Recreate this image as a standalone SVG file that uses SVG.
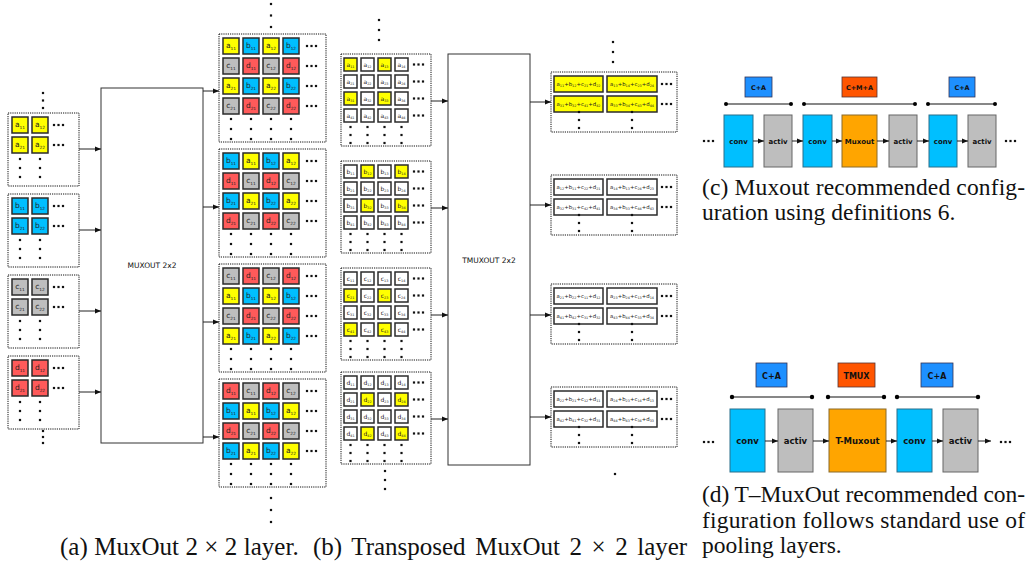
<svg xmlns="http://www.w3.org/2000/svg" xmlns:xlink="http://www.w3.org/1999/xlink" width="1031" height="567" viewBox="0 0 1031 567">
<style>
.dbox{fill:none;stroke:#111;stroke-width:1;stroke-dasharray:1.2 1}
.cell{stroke:#2b2b2b;stroke-width:1.5}
.Y{fill:#ffff00}.B{fill:#00bfff}.G{fill:#bebebe}.R{fill:#ff5a5a}.W{fill:#ffffff}
.t{font-family:"DejaVu Sans",sans-serif;font-size:7.5px;fill:#222;text-anchor:middle}
.tb{font-family:"DejaVu Sans",sans-serif;font-size:6px;fill:#222;text-anchor:middle}
.to{font-family:"DejaVu Sans",sans-serif;font-size:5.4px;fill:#222;text-anchor:middle}
.s{font-size:4.3px}
.s2{font-size:3.4px}
.big{fill:#fff;stroke:#333;stroke-width:1}
.bl{font-family:"DejaVu Sans",sans-serif;font-size:7.5px;fill:#111;text-anchor:middle}
.conn line{stroke:#222;stroke-width:1;marker-end:url(#ah)}
.cap{font-family:"Liberation Serif","Times New Roman",serif;font-size:23.5px;fill:#111}
.capL{font-size:25px}
.k{font-family:"DejaVu Sans",sans-serif;font-weight:bold;fill:#111;text-anchor:middle}
.conv{fill:#00bfff;stroke:#2b6f8a;stroke-width:1}
.act{fill:#bebebe;stroke:#666;stroke-width:1}
.mux{fill:#ffa500;stroke:#8a6a2a;stroke-width:1}
.lab{fill:#1e90ff;stroke:#335;stroke-width:0.8}
.labo{fill:#ff5500;stroke:#533;stroke-width:0.8}
.span{stroke:#111;stroke-width:1.2}
</style>
<defs>
<marker id="ah" markerWidth="6" markerHeight="6" refX="6" refY="3" orient="auto" markerUnits="userSpaceOnUse"><path d="M0,0.6 L6,3 L0,5.4 z" fill="#111"/></marker>
<rect id="c16" width="16" height="16"/>
<rect id="c13" width="13" height="13"/>
<rect id="dot" x="-1.1" y="-1.1" width="2.2" height="2.2" fill="#111"/>
<g id="ell"><use href="#dot" x="1"/><use href="#dot" x="5.5"/><use href="#dot" x="10"/></g>
<g id="vdA"><use href="#dot" y="0"/><use href="#dot" y="9"/><use href="#dot" y="18"/></g>
<g id="vdB"><use href="#dot" y="0"/><use href="#dot" y="10"/><use href="#dot" y="20"/></g>
<g id="vdC"><use href="#dot" y="0"/><use href="#dot" y="8"/><use href="#dot" y="16"/></g>
</defs>

<!-- ===== (a) MuxOut 2x2: input feature maps ===== -->
<g id="dots-a-top"><use href="#dot" x="43" y="93"/><use href="#dot" x="43" y="100.5"/><use href="#dot" x="43" y="108"/></g>
<g id="in-a" transform="translate(8,113)">
<rect class="dbox" width="71" height="73"/>
<use href="#c16" class="cell Y" x="4" y="4"/><use href="#c16" class="cell Y" x="24" y="4"/>
<use href="#c16" class="cell Y" x="4" y="24"/><use href="#c16" class="cell Y" x="24" y="24"/>
<text class="t" x="12" y="14">a<tspan class="s" dy="1.5">11</tspan></text>
<text class="t" x="32" y="14">a<tspan class="s" dy="1.5">12</tspan></text>
<text class="t" x="12" y="34">a<tspan class="s" dy="1.5">21</tspan></text>
<text class="t" x="32" y="34">a<tspan class="s" dy="1.5">22</tspan></text>
<use href="#ell" x="45" y="12"/><use href="#ell" x="45" y="32"/>
<use href="#vdA" x="12" y="46"/><use href="#vdA" x="32" y="46"/>
</g>
<g id="in-b" transform="translate(8,194)">
<rect class="dbox" width="71" height="73"/>
<use href="#c16" class="cell B" x="4" y="4"/><use href="#c16" class="cell B" x="24" y="4"/>
<use href="#c16" class="cell B" x="4" y="24"/><use href="#c16" class="cell B" x="24" y="24"/>
<text class="t" x="12" y="14">b<tspan class="s" dy="1.5">11</tspan></text>
<text class="t" x="32" y="14">b<tspan class="s" dy="1.5">12</tspan></text>
<text class="t" x="12" y="34">b<tspan class="s" dy="1.5">21</tspan></text>
<text class="t" x="32" y="34">b<tspan class="s" dy="1.5">22</tspan></text>
<use href="#ell" x="45" y="12"/><use href="#ell" x="45" y="32"/>
<use href="#vdA" x="12" y="46"/><use href="#vdA" x="32" y="46"/>
</g>
<g id="in-c" transform="translate(8,275)">
<rect class="dbox" width="71" height="73"/>
<use href="#c16" class="cell G" x="4" y="4"/><use href="#c16" class="cell G" x="24" y="4"/>
<use href="#c16" class="cell G" x="4" y="24"/><use href="#c16" class="cell G" x="24" y="24"/>
<text class="t" x="12" y="14">c<tspan class="s" dy="1.5">11</tspan></text>
<text class="t" x="32" y="14">c<tspan class="s" dy="1.5">12</tspan></text>
<text class="t" x="12" y="34">c<tspan class="s" dy="1.5">21</tspan></text>
<text class="t" x="32" y="34">c<tspan class="s" dy="1.5">22</tspan></text>
<use href="#ell" x="45" y="12"/><use href="#ell" x="45" y="32"/>
<use href="#vdA" x="12" y="46"/><use href="#vdA" x="32" y="46"/>
</g>
<g id="in-d" transform="translate(8,356)">
<rect class="dbox" width="71" height="73"/>
<use href="#c16" class="cell R" x="4" y="4"/><use href="#c16" class="cell R" x="24" y="4"/>
<use href="#c16" class="cell R" x="4" y="24"/><use href="#c16" class="cell R" x="24" y="24"/>
<text class="t" x="12" y="14">d<tspan class="s" dy="1.5">11</tspan></text>
<text class="t" x="32" y="14">d<tspan class="s" dy="1.5">12</tspan></text>
<text class="t" x="12" y="34">d<tspan class="s" dy="1.5">21</tspan></text>
<text class="t" x="32" y="34">d<tspan class="s" dy="1.5">22</tspan></text>
<use href="#ell" x="45" y="12"/><use href="#ell" x="45" y="32"/>
<use href="#vdA" x="12" y="46"/><use href="#vdA" x="32" y="46"/>
</g>
<g id="dots-a-bottom"><use href="#dot" x="43" y="431"/><use href="#dot" x="43" y="437"/><use href="#dot" x="43" y="443"/></g>

<!-- MUXOUT layer -->
<g id="muxout">
<rect class="big" x="101" y="88" width="102" height="355"/>
<text class="bl" x="152" y="268">MUXOUT 2x2</text>
</g>

<!-- ===== (a) output maps ===== -->
<g id="dots-a-out-top"><use href="#dot" x="271" y="4"/><use href="#dot" x="271" y="15.5"/><use href="#dot" x="271" y="27"/></g>
<g id="out-a1" transform="translate(219,34)">
<rect class="dbox" width="107" height="108"/>
<use href="#c16" class="cell Y" x="4" y="4"/><use href="#c16" class="cell B" x="24" y="4"/><use href="#c16" class="cell Y" x="44" y="4"/><use href="#c16" class="cell B" x="64" y="4"/>
<use href="#c16" class="cell G" x="4" y="24"/><use href="#c16" class="cell R" x="24" y="24"/><use href="#c16" class="cell G" x="44" y="24"/><use href="#c16" class="cell R" x="64" y="24"/>
<use href="#c16" class="cell Y" x="4" y="44"/><use href="#c16" class="cell B" x="24" y="44"/><use href="#c16" class="cell Y" x="44" y="44"/><use href="#c16" class="cell B" x="64" y="44"/>
<use href="#c16" class="cell G" x="4" y="64"/><use href="#c16" class="cell R" x="24" y="64"/><use href="#c16" class="cell G" x="44" y="64"/><use href="#c16" class="cell R" x="64" y="64"/>
<text class="t" x="12" y="14">a<tspan class="s" dy="1.5">11</tspan></text><text class="t" x="32" y="14">b<tspan class="s" dy="1.5">11</tspan></text><text class="t" x="52" y="14">a<tspan class="s" dy="1.5">12</tspan></text><text class="t" x="72" y="14">b<tspan class="s" dy="1.5">12</tspan></text>
<text class="t" x="12" y="34">c<tspan class="s" dy="1.5">11</tspan></text><text class="t" x="32" y="34">d<tspan class="s" dy="1.5">11</tspan></text><text class="t" x="52" y="34">c<tspan class="s" dy="1.5">12</tspan></text><text class="t" x="72" y="34">d<tspan class="s" dy="1.5">12</tspan></text>
<text class="t" x="12" y="54">a<tspan class="s" dy="1.5">21</tspan></text><text class="t" x="32" y="54">b<tspan class="s" dy="1.5">21</tspan></text><text class="t" x="52" y="54">a<tspan class="s" dy="1.5">22</tspan></text><text class="t" x="72" y="54">b<tspan class="s" dy="1.5">22</tspan></text>
<text class="t" x="12" y="74">c<tspan class="s" dy="1.5">21</tspan></text><text class="t" x="32" y="74">d<tspan class="s" dy="1.5">21</tspan></text><text class="t" x="52" y="74">c<tspan class="s" dy="1.5">22</tspan></text><text class="t" x="72" y="74">d<tspan class="s" dy="1.5">22</tspan></text>
<use href="#ell" x="87" y="12"/><use href="#ell" x="87" y="32"/><use href="#ell" x="87" y="52"/><use href="#ell" x="87" y="72"/>
<use href="#vdB" x="12" y="85"/><use href="#vdB" x="32" y="85"/><use href="#vdB" x="52" y="85"/><use href="#vdB" x="72" y="85"/>
</g>
<g id="out-a2" transform="translate(219,149)">
<rect class="dbox" width="107" height="108"/>
<use href="#c16" class="cell B" x="4" y="4"/><use href="#c16" class="cell Y" x="24" y="4"/><use href="#c16" class="cell B" x="44" y="4"/><use href="#c16" class="cell Y" x="64" y="4"/>
<use href="#c16" class="cell R" x="4" y="24"/><use href="#c16" class="cell G" x="24" y="24"/><use href="#c16" class="cell R" x="44" y="24"/><use href="#c16" class="cell G" x="64" y="24"/>
<use href="#c16" class="cell B" x="4" y="44"/><use href="#c16" class="cell Y" x="24" y="44"/><use href="#c16" class="cell B" x="44" y="44"/><use href="#c16" class="cell Y" x="64" y="44"/>
<use href="#c16" class="cell R" x="4" y="64"/><use href="#c16" class="cell G" x="24" y="64"/><use href="#c16" class="cell R" x="44" y="64"/><use href="#c16" class="cell G" x="64" y="64"/>
<text class="t" x="12" y="14">b<tspan class="s" dy="1.5">11</tspan></text><text class="t" x="32" y="14">a<tspan class="s" dy="1.5">11</tspan></text><text class="t" x="52" y="14">b<tspan class="s" dy="1.5">12</tspan></text><text class="t" x="72" y="14">a<tspan class="s" dy="1.5">12</tspan></text>
<text class="t" x="12" y="34">d<tspan class="s" dy="1.5">11</tspan></text><text class="t" x="32" y="34">c<tspan class="s" dy="1.5">11</tspan></text><text class="t" x="52" y="34">d<tspan class="s" dy="1.5">12</tspan></text><text class="t" x="72" y="34">c<tspan class="s" dy="1.5">12</tspan></text>
<text class="t" x="12" y="54">b<tspan class="s" dy="1.5">21</tspan></text><text class="t" x="32" y="54">a<tspan class="s" dy="1.5">21</tspan></text><text class="t" x="52" y="54">b<tspan class="s" dy="1.5">22</tspan></text><text class="t" x="72" y="54">a<tspan class="s" dy="1.5">22</tspan></text>
<text class="t" x="12" y="74">d<tspan class="s" dy="1.5">21</tspan></text><text class="t" x="32" y="74">c<tspan class="s" dy="1.5">21</tspan></text><text class="t" x="52" y="74">d<tspan class="s" dy="1.5">22</tspan></text><text class="t" x="72" y="74">c<tspan class="s" dy="1.5">22</tspan></text>
<use href="#ell" x="87" y="12"/><use href="#ell" x="87" y="32"/><use href="#ell" x="87" y="52"/><use href="#ell" x="87" y="72"/>
<use href="#vdB" x="12" y="85"/><use href="#vdB" x="32" y="85"/><use href="#vdB" x="52" y="85"/><use href="#vdB" x="72" y="85"/>
</g>
<g id="out-a3" transform="translate(219,264)">
<rect class="dbox" width="107" height="108"/>
<use href="#c16" class="cell G" x="4" y="4"/><use href="#c16" class="cell R" x="24" y="4"/><use href="#c16" class="cell G" x="44" y="4"/><use href="#c16" class="cell R" x="64" y="4"/>
<use href="#c16" class="cell Y" x="4" y="24"/><use href="#c16" class="cell B" x="24" y="24"/><use href="#c16" class="cell Y" x="44" y="24"/><use href="#c16" class="cell B" x="64" y="24"/>
<use href="#c16" class="cell G" x="4" y="44"/><use href="#c16" class="cell R" x="24" y="44"/><use href="#c16" class="cell G" x="44" y="44"/><use href="#c16" class="cell R" x="64" y="44"/>
<use href="#c16" class="cell Y" x="4" y="64"/><use href="#c16" class="cell B" x="24" y="64"/><use href="#c16" class="cell Y" x="44" y="64"/><use href="#c16" class="cell B" x="64" y="64"/>
<text class="t" x="12" y="14">c<tspan class="s" dy="1.5">11</tspan></text><text class="t" x="32" y="14">d<tspan class="s" dy="1.5">11</tspan></text><text class="t" x="52" y="14">c<tspan class="s" dy="1.5">12</tspan></text><text class="t" x="72" y="14">d<tspan class="s" dy="1.5">12</tspan></text>
<text class="t" x="12" y="34">a<tspan class="s" dy="1.5">11</tspan></text><text class="t" x="32" y="34">b<tspan class="s" dy="1.5">11</tspan></text><text class="t" x="52" y="34">a<tspan class="s" dy="1.5">12</tspan></text><text class="t" x="72" y="34">b<tspan class="s" dy="1.5">12</tspan></text>
<text class="t" x="12" y="54">c<tspan class="s" dy="1.5">21</tspan></text><text class="t" x="32" y="54">d<tspan class="s" dy="1.5">21</tspan></text><text class="t" x="52" y="54">c<tspan class="s" dy="1.5">22</tspan></text><text class="t" x="72" y="54">d<tspan class="s" dy="1.5">22</tspan></text>
<text class="t" x="12" y="74">a<tspan class="s" dy="1.5">21</tspan></text><text class="t" x="32" y="74">b<tspan class="s" dy="1.5">21</tspan></text><text class="t" x="52" y="74">a<tspan class="s" dy="1.5">22</tspan></text><text class="t" x="72" y="74">b<tspan class="s" dy="1.5">22</tspan></text>
<use href="#ell" x="87" y="12"/><use href="#ell" x="87" y="32"/><use href="#ell" x="87" y="52"/><use href="#ell" x="87" y="72"/>
<use href="#vdB" x="12" y="85"/><use href="#vdB" x="32" y="85"/><use href="#vdB" x="52" y="85"/><use href="#vdB" x="72" y="85"/>
</g>
<g id="out-a4" transform="translate(219,379)">
<rect class="dbox" width="107" height="108"/>
<use href="#c16" class="cell R" x="4" y="4"/><use href="#c16" class="cell G" x="24" y="4"/><use href="#c16" class="cell R" x="44" y="4"/><use href="#c16" class="cell G" x="64" y="4"/>
<use href="#c16" class="cell B" x="4" y="24"/><use href="#c16" class="cell Y" x="24" y="24"/><use href="#c16" class="cell B" x="44" y="24"/><use href="#c16" class="cell Y" x="64" y="24"/>
<use href="#c16" class="cell R" x="4" y="44"/><use href="#c16" class="cell G" x="24" y="44"/><use href="#c16" class="cell R" x="44" y="44"/><use href="#c16" class="cell G" x="64" y="44"/>
<use href="#c16" class="cell B" x="4" y="64"/><use href="#c16" class="cell Y" x="24" y="64"/><use href="#c16" class="cell B" x="44" y="64"/><use href="#c16" class="cell Y" x="64" y="64"/>
<text class="t" x="12" y="14">d<tspan class="s" dy="1.5">11</tspan></text><text class="t" x="32" y="14">c<tspan class="s" dy="1.5">11</tspan></text><text class="t" x="52" y="14">d<tspan class="s" dy="1.5">12</tspan></text><text class="t" x="72" y="14">c<tspan class="s" dy="1.5">12</tspan></text>
<text class="t" x="12" y="34">b<tspan class="s" dy="1.5">11</tspan></text><text class="t" x="32" y="34">a<tspan class="s" dy="1.5">11</tspan></text><text class="t" x="52" y="34">b<tspan class="s" dy="1.5">12</tspan></text><text class="t" x="72" y="34">a<tspan class="s" dy="1.5">12</tspan></text>
<text class="t" x="12" y="54">d<tspan class="s" dy="1.5">21</tspan></text><text class="t" x="32" y="54">c<tspan class="s" dy="1.5">21</tspan></text><text class="t" x="52" y="54">d<tspan class="s" dy="1.5">22</tspan></text><text class="t" x="72" y="54">c<tspan class="s" dy="1.5">22</tspan></text>
<text class="t" x="12" y="74">b<tspan class="s" dy="1.5">21</tspan></text><text class="t" x="32" y="74">a<tspan class="s" dy="1.5">21</tspan></text><text class="t" x="52" y="74">b<tspan class="s" dy="1.5">22</tspan></text><text class="t" x="72" y="74">a<tspan class="s" dy="1.5">22</tspan></text>
<use href="#ell" x="87" y="12"/><use href="#ell" x="87" y="32"/><use href="#ell" x="87" y="52"/><use href="#ell" x="87" y="72"/>
<use href="#vdB" x="12" y="85"/><use href="#vdB" x="32" y="85"/><use href="#vdB" x="52" y="85"/><use href="#vdB" x="72" y="85"/>
</g>
<g id="dots-a-out-bottom"><use href="#dot" x="271" y="498"/><use href="#dot" x="271" y="510"/><use href="#dot" x="271" y="522"/></g>

<!-- ===== (b) Transposed MuxOut: input maps ===== -->
<g id="dots-b-top"><use href="#dot" x="379" y="20"/><use href="#dot" x="379" y="30"/><use href="#dot" x="379" y="40"/></g>
<g id="tin-a" transform="translate(341,54)">
<rect class="dbox" width="90" height="92"/>
<use href="#c13" class="cell Y" x="3" y="4"/><use href="#c13" class="cell W" x="20" y="4"/><use href="#c13" class="cell Y" x="37" y="4"/><use href="#c13" class="cell W" x="54" y="4"/>
<use href="#c13" class="cell W" x="3" y="21"/><use href="#c13" class="cell W" x="20" y="21"/><use href="#c13" class="cell W" x="37" y="21"/><use href="#c13" class="cell W" x="54" y="21"/>
<use href="#c13" class="cell Y" x="3" y="38"/><use href="#c13" class="cell W" x="20" y="38"/><use href="#c13" class="cell Y" x="37" y="38"/><use href="#c13" class="cell W" x="54" y="38"/>
<use href="#c13" class="cell W" x="3" y="55"/><use href="#c13" class="cell W" x="20" y="55"/><use href="#c13" class="cell W" x="37" y="55"/><use href="#c13" class="cell W" x="54" y="55"/>
<text class="tb" x="9.5" y="12.5">a<tspan class="s2" dy="1.2">11</tspan></text><text class="tb" x="26.5" y="12.5">a<tspan class="s2" dy="1.2">12</tspan></text><text class="tb" x="43.5" y="12.5">a<tspan class="s2" dy="1.2">13</tspan></text><text class="tb" x="60.5" y="12.5">a<tspan class="s2" dy="1.2">14</tspan></text>
<text class="tb" x="9.5" y="29.5">a<tspan class="s2" dy="1.2">21</tspan></text><text class="tb" x="26.5" y="29.5">a<tspan class="s2" dy="1.2">22</tspan></text><text class="tb" x="43.5" y="29.5">a<tspan class="s2" dy="1.2">23</tspan></text><text class="tb" x="60.5" y="29.5">a<tspan class="s2" dy="1.2">24</tspan></text>
<text class="tb" x="9.5" y="46.5">a<tspan class="s2" dy="1.2">31</tspan></text><text class="tb" x="26.5" y="46.5">a<tspan class="s2" dy="1.2">32</tspan></text><text class="tb" x="43.5" y="46.5">a<tspan class="s2" dy="1.2">33</tspan></text><text class="tb" x="60.5" y="46.5">a<tspan class="s2" dy="1.2">34</tspan></text>
<text class="tb" x="9.5" y="63.5">a<tspan class="s2" dy="1.2">41</tspan></text><text class="tb" x="26.5" y="63.5">a<tspan class="s2" dy="1.2">42</tspan></text><text class="tb" x="43.5" y="63.5">a<tspan class="s2" dy="1.2">43</tspan></text><text class="tb" x="60.5" y="63.5">a<tspan class="s2" dy="1.2">44</tspan></text>
<use href="#ell" x="72" y="10.5"/><use href="#ell" x="72" y="27.5"/><use href="#ell" x="72" y="44.5"/><use href="#ell" x="72" y="61.5"/>
<use href="#vdC" x="9.5" y="73"/><use href="#vdC" x="26.5" y="73"/><use href="#vdC" x="43.5" y="73"/><use href="#vdC" x="60.5" y="73"/>
</g>
<g id="tin-b" transform="translate(341,161)">
<rect class="dbox" width="90" height="92"/>
<use href="#c13" class="cell W" x="3" y="4"/><use href="#c13" class="cell Y" x="20" y="4"/><use href="#c13" class="cell W" x="37" y="4"/><use href="#c13" class="cell Y" x="54" y="4"/>
<use href="#c13" class="cell W" x="3" y="21"/><use href="#c13" class="cell W" x="20" y="21"/><use href="#c13" class="cell W" x="37" y="21"/><use href="#c13" class="cell W" x="54" y="21"/>
<use href="#c13" class="cell W" x="3" y="38"/><use href="#c13" class="cell Y" x="20" y="38"/><use href="#c13" class="cell W" x="37" y="38"/><use href="#c13" class="cell Y" x="54" y="38"/>
<use href="#c13" class="cell W" x="3" y="55"/><use href="#c13" class="cell W" x="20" y="55"/><use href="#c13" class="cell W" x="37" y="55"/><use href="#c13" class="cell W" x="54" y="55"/>
<text class="tb" x="9.5" y="12.5">b<tspan class="s2" dy="1.2">11</tspan></text><text class="tb" x="26.5" y="12.5">b<tspan class="s2" dy="1.2">12</tspan></text><text class="tb" x="43.5" y="12.5">b<tspan class="s2" dy="1.2">13</tspan></text><text class="tb" x="60.5" y="12.5">b<tspan class="s2" dy="1.2">14</tspan></text>
<text class="tb" x="9.5" y="29.5">b<tspan class="s2" dy="1.2">21</tspan></text><text class="tb" x="26.5" y="29.5">b<tspan class="s2" dy="1.2">22</tspan></text><text class="tb" x="43.5" y="29.5">b<tspan class="s2" dy="1.2">23</tspan></text><text class="tb" x="60.5" y="29.5">b<tspan class="s2" dy="1.2">24</tspan></text>
<text class="tb" x="9.5" y="46.5">b<tspan class="s2" dy="1.2">31</tspan></text><text class="tb" x="26.5" y="46.5">b<tspan class="s2" dy="1.2">32</tspan></text><text class="tb" x="43.5" y="46.5">b<tspan class="s2" dy="1.2">33</tspan></text><text class="tb" x="60.5" y="46.5">b<tspan class="s2" dy="1.2">34</tspan></text>
<text class="tb" x="9.5" y="63.5">b<tspan class="s2" dy="1.2">41</tspan></text><text class="tb" x="26.5" y="63.5">b<tspan class="s2" dy="1.2">42</tspan></text><text class="tb" x="43.5" y="63.5">b<tspan class="s2" dy="1.2">43</tspan></text><text class="tb" x="60.5" y="63.5">b<tspan class="s2" dy="1.2">44</tspan></text>
<use href="#ell" x="72" y="10.5"/><use href="#ell" x="72" y="27.5"/><use href="#ell" x="72" y="44.5"/><use href="#ell" x="72" y="61.5"/>
<use href="#vdC" x="9.5" y="73"/><use href="#vdC" x="26.5" y="73"/><use href="#vdC" x="43.5" y="73"/><use href="#vdC" x="60.5" y="73"/>
</g>
<g id="tin-c" transform="translate(341,268)">
<rect class="dbox" width="90" height="92"/>
<use href="#c13" class="cell W" x="3" y="4"/><use href="#c13" class="cell W" x="20" y="4"/><use href="#c13" class="cell W" x="37" y="4"/><use href="#c13" class="cell W" x="54" y="4"/>
<use href="#c13" class="cell Y" x="3" y="21"/><use href="#c13" class="cell W" x="20" y="21"/><use href="#c13" class="cell Y" x="37" y="21"/><use href="#c13" class="cell W" x="54" y="21"/>
<use href="#c13" class="cell W" x="3" y="38"/><use href="#c13" class="cell W" x="20" y="38"/><use href="#c13" class="cell W" x="37" y="38"/><use href="#c13" class="cell W" x="54" y="38"/>
<use href="#c13" class="cell Y" x="3" y="55"/><use href="#c13" class="cell W" x="20" y="55"/><use href="#c13" class="cell Y" x="37" y="55"/><use href="#c13" class="cell W" x="54" y="55"/>
<text class="tb" x="9.5" y="12.5">c<tspan class="s2" dy="1.2">11</tspan></text><text class="tb" x="26.5" y="12.5">c<tspan class="s2" dy="1.2">12</tspan></text><text class="tb" x="43.5" y="12.5">c<tspan class="s2" dy="1.2">13</tspan></text><text class="tb" x="60.5" y="12.5">c<tspan class="s2" dy="1.2">14</tspan></text>
<text class="tb" x="9.5" y="29.5">c<tspan class="s2" dy="1.2">21</tspan></text><text class="tb" x="26.5" y="29.5">c<tspan class="s2" dy="1.2">22</tspan></text><text class="tb" x="43.5" y="29.5">c<tspan class="s2" dy="1.2">23</tspan></text><text class="tb" x="60.5" y="29.5">c<tspan class="s2" dy="1.2">24</tspan></text>
<text class="tb" x="9.5" y="46.5">c<tspan class="s2" dy="1.2">31</tspan></text><text class="tb" x="26.5" y="46.5">c<tspan class="s2" dy="1.2">32</tspan></text><text class="tb" x="43.5" y="46.5">c<tspan class="s2" dy="1.2">33</tspan></text><text class="tb" x="60.5" y="46.5">c<tspan class="s2" dy="1.2">34</tspan></text>
<text class="tb" x="9.5" y="63.5">c<tspan class="s2" dy="1.2">41</tspan></text><text class="tb" x="26.5" y="63.5">c<tspan class="s2" dy="1.2">42</tspan></text><text class="tb" x="43.5" y="63.5">c<tspan class="s2" dy="1.2">43</tspan></text><text class="tb" x="60.5" y="63.5">c<tspan class="s2" dy="1.2">44</tspan></text>
<use href="#ell" x="72" y="10.5"/><use href="#ell" x="72" y="27.5"/><use href="#ell" x="72" y="44.5"/><use href="#ell" x="72" y="61.5"/>
<use href="#vdC" x="9.5" y="73"/><use href="#vdC" x="26.5" y="73"/><use href="#vdC" x="43.5" y="73"/><use href="#vdC" x="60.5" y="73"/>
</g>
<g id="tin-d" transform="translate(341,372)">
<rect class="dbox" width="90" height="92"/>
<use href="#c13" class="cell W" x="3" y="4"/><use href="#c13" class="cell W" x="20" y="4"/><use href="#c13" class="cell W" x="37" y="4"/><use href="#c13" class="cell W" x="54" y="4"/>
<use href="#c13" class="cell W" x="3" y="21"/><use href="#c13" class="cell Y" x="20" y="21"/><use href="#c13" class="cell W" x="37" y="21"/><use href="#c13" class="cell Y" x="54" y="21"/>
<use href="#c13" class="cell W" x="3" y="38"/><use href="#c13" class="cell W" x="20" y="38"/><use href="#c13" class="cell W" x="37" y="38"/><use href="#c13" class="cell W" x="54" y="38"/>
<use href="#c13" class="cell W" x="3" y="55"/><use href="#c13" class="cell Y" x="20" y="55"/><use href="#c13" class="cell W" x="37" y="55"/><use href="#c13" class="cell Y" x="54" y="55"/>
<text class="tb" x="9.5" y="12.5">d<tspan class="s2" dy="1.2">11</tspan></text><text class="tb" x="26.5" y="12.5">d<tspan class="s2" dy="1.2">12</tspan></text><text class="tb" x="43.5" y="12.5">d<tspan class="s2" dy="1.2">13</tspan></text><text class="tb" x="60.5" y="12.5">d<tspan class="s2" dy="1.2">14</tspan></text>
<text class="tb" x="9.5" y="29.5">d<tspan class="s2" dy="1.2">21</tspan></text><text class="tb" x="26.5" y="29.5">d<tspan class="s2" dy="1.2">22</tspan></text><text class="tb" x="43.5" y="29.5">d<tspan class="s2" dy="1.2">23</tspan></text><text class="tb" x="60.5" y="29.5">d<tspan class="s2" dy="1.2">24</tspan></text>
<text class="tb" x="9.5" y="46.5">d<tspan class="s2" dy="1.2">31</tspan></text><text class="tb" x="26.5" y="46.5">d<tspan class="s2" dy="1.2">32</tspan></text><text class="tb" x="43.5" y="46.5">d<tspan class="s2" dy="1.2">33</tspan></text><text class="tb" x="60.5" y="46.5">d<tspan class="s2" dy="1.2">34</tspan></text>
<text class="tb" x="9.5" y="63.5">d<tspan class="s2" dy="1.2">41</tspan></text><text class="tb" x="26.5" y="63.5">d<tspan class="s2" dy="1.2">42</tspan></text><text class="tb" x="43.5" y="63.5">d<tspan class="s2" dy="1.2">43</tspan></text><text class="tb" x="60.5" y="63.5">d<tspan class="s2" dy="1.2">44</tspan></text>
<use href="#ell" x="72" y="10.5"/><use href="#ell" x="72" y="27.5"/><use href="#ell" x="72" y="44.5"/><use href="#ell" x="72" y="61.5"/>
<use href="#vdC" x="9.5" y="73"/><use href="#vdC" x="26.5" y="73"/><use href="#vdC" x="43.5" y="73"/><use href="#vdC" x="60.5" y="73"/>
</g>
<g id="dots-b-bottom"><use href="#dot" x="385" y="471"/><use href="#dot" x="385" y="480"/><use href="#dot" x="385" y="489"/></g>

<!-- TMUXOUT layer -->
<g id="tmuxout">
<rect class="big" x="448" y="54" width="82" height="411"/>
<text class="bl" x="489" y="263">TMUXOUT 2x2</text>
</g>

<!-- ===== (b) output maps ===== -->
<g id="dots-b-out-top"><use href="#dot" x="613" y="42"/><use href="#dot" x="613" y="52"/><use href="#dot" x="613" y="62"/></g>
<g id="tout-1" transform="translate(551,72)">
<rect class="dbox" width="126" height="60"/>
<rect class="cell Y" x="3" y="4" width="49" height="16"/><rect class="cell Y" x="56" y="4" width="50" height="16"/>
<rect class="cell Y" x="3" y="24" width="49" height="16"/><rect class="cell Y" x="56" y="24" width="50" height="16"/>
<text class="to" x="27.5" y="14">a<tspan class="s2" dy="1.2">11</tspan><tspan dy="-1.2">+b</tspan><tspan class="s2" dy="1.2">12</tspan><tspan dy="-1.2">+c</tspan><tspan class="s2" dy="1.2">21</tspan><tspan dy="-1.2">+d</tspan><tspan class="s2" dy="1.2">22</tspan></text>
<text class="to" x="81" y="14">a<tspan class="s2" dy="1.2">13</tspan><tspan dy="-1.2">+b</tspan><tspan class="s2" dy="1.2">14</tspan><tspan dy="-1.2">+c</tspan><tspan class="s2" dy="1.2">23</tspan><tspan dy="-1.2">+d</tspan><tspan class="s2" dy="1.2">24</tspan></text>
<text class="to" x="27.5" y="34">a<tspan class="s2" dy="1.2">31</tspan><tspan dy="-1.2">+b</tspan><tspan class="s2" dy="1.2">32</tspan><tspan dy="-1.2">+c</tspan><tspan class="s2" dy="1.2">41</tspan><tspan dy="-1.2">+d</tspan><tspan class="s2" dy="1.2">42</tspan></text>
<text class="to" x="81" y="34">a<tspan class="s2" dy="1.2">33</tspan><tspan dy="-1.2">+b</tspan><tspan class="s2" dy="1.2">34</tspan><tspan dy="-1.2">+c</tspan><tspan class="s2" dy="1.2">43</tspan><tspan dy="-1.2">+d</tspan><tspan class="s2" dy="1.2">44</tspan></text>
<use href="#ell" x="110" y="12"/><use href="#ell" x="110" y="32"/>
<use href="#vdC" x="28" y="40"/><use href="#vdC" x="81" y="40"/>
</g>
<g id="tout-2" transform="translate(551,175)">
<rect class="dbox" width="126" height="60"/>
<rect class="cell W" x="3" y="4" width="49" height="16"/><rect class="cell W" x="56" y="4" width="50" height="16"/>
<rect class="cell W" x="3" y="24" width="49" height="16"/><rect class="cell W" x="56" y="24" width="50" height="16"/>
<text class="to" x="27.5" y="14">a<tspan class="s2" dy="1.2">12</tspan><tspan dy="-1.2">+b</tspan><tspan class="s2" dy="1.2">11</tspan><tspan dy="-1.2">+c</tspan><tspan class="s2" dy="1.2">22</tspan><tspan dy="-1.2">+d</tspan><tspan class="s2" dy="1.2">21</tspan></text>
<text class="to" x="81" y="14">a<tspan class="s2" dy="1.2">14</tspan><tspan dy="-1.2">+b</tspan><tspan class="s2" dy="1.2">13</tspan><tspan dy="-1.2">+c</tspan><tspan class="s2" dy="1.2">24</tspan><tspan dy="-1.2">+d</tspan><tspan class="s2" dy="1.2">23</tspan></text>
<text class="to" x="27.5" y="34">a<tspan class="s2" dy="1.2">32</tspan><tspan dy="-1.2">+b</tspan><tspan class="s2" dy="1.2">31</tspan><tspan dy="-1.2">+c</tspan><tspan class="s2" dy="1.2">42</tspan><tspan dy="-1.2">+d</tspan><tspan class="s2" dy="1.2">41</tspan></text>
<text class="to" x="81" y="34">a<tspan class="s2" dy="1.2">34</tspan><tspan dy="-1.2">+b</tspan><tspan class="s2" dy="1.2">33</tspan><tspan dy="-1.2">+c</tspan><tspan class="s2" dy="1.2">44</tspan><tspan dy="-1.2">+d</tspan><tspan class="s2" dy="1.2">43</tspan></text>
<use href="#ell" x="110" y="12"/><use href="#ell" x="110" y="32"/>
<use href="#vdC" x="28" y="40"/><use href="#vdC" x="81" y="40"/>
</g>
<g id="tout-3" transform="translate(551,284)">
<rect class="dbox" width="126" height="60"/>
<rect class="cell W" x="3" y="4" width="49" height="16"/><rect class="cell W" x="56" y="4" width="50" height="16"/>
<rect class="cell W" x="3" y="24" width="49" height="16"/><rect class="cell W" x="56" y="24" width="50" height="16"/>
<text class="to" x="27.5" y="14">a<tspan class="s2" dy="1.2">21</tspan><tspan dy="-1.2">+b</tspan><tspan class="s2" dy="1.2">22</tspan><tspan dy="-1.2">+c</tspan><tspan class="s2" dy="1.2">11</tspan><tspan dy="-1.2">+d</tspan><tspan class="s2" dy="1.2">12</tspan></text>
<text class="to" x="81" y="14">a<tspan class="s2" dy="1.2">23</tspan><tspan dy="-1.2">+b</tspan><tspan class="s2" dy="1.2">24</tspan><tspan dy="-1.2">+c</tspan><tspan class="s2" dy="1.2">13</tspan><tspan dy="-1.2">+d</tspan><tspan class="s2" dy="1.2">14</tspan></text>
<text class="to" x="27.5" y="34">a<tspan class="s2" dy="1.2">41</tspan><tspan dy="-1.2">+b</tspan><tspan class="s2" dy="1.2">42</tspan><tspan dy="-1.2">+c</tspan><tspan class="s2" dy="1.2">31</tspan><tspan dy="-1.2">+d</tspan><tspan class="s2" dy="1.2">32</tspan></text>
<text class="to" x="81" y="34">a<tspan class="s2" dy="1.2">43</tspan><tspan dy="-1.2">+b</tspan><tspan class="s2" dy="1.2">44</tspan><tspan dy="-1.2">+c</tspan><tspan class="s2" dy="1.2">33</tspan><tspan dy="-1.2">+d</tspan><tspan class="s2" dy="1.2">34</tspan></text>
<use href="#ell" x="110" y="12"/><use href="#ell" x="110" y="32"/>
<use href="#vdC" x="28" y="40"/><use href="#vdC" x="81" y="40"/>
</g>
<g id="tout-4" transform="translate(551,387)">
<rect class="dbox" width="126" height="60"/>
<rect class="cell W" x="3" y="4" width="49" height="16"/><rect class="cell W" x="56" y="4" width="50" height="16"/>
<rect class="cell W" x="3" y="24" width="49" height="16"/><rect class="cell W" x="56" y="24" width="50" height="16"/>
<text class="to" x="27.5" y="14">a<tspan class="s2" dy="1.2">22</tspan><tspan dy="-1.2">+b</tspan><tspan class="s2" dy="1.2">21</tspan><tspan dy="-1.2">+c</tspan><tspan class="s2" dy="1.2">12</tspan><tspan dy="-1.2">+d</tspan><tspan class="s2" dy="1.2">11</tspan></text>
<text class="to" x="81" y="14">a<tspan class="s2" dy="1.2">24</tspan><tspan dy="-1.2">+b</tspan><tspan class="s2" dy="1.2">23</tspan><tspan dy="-1.2">+c</tspan><tspan class="s2" dy="1.2">14</tspan><tspan dy="-1.2">+d</tspan><tspan class="s2" dy="1.2">13</tspan></text>
<text class="to" x="27.5" y="34">a<tspan class="s2" dy="1.2">42</tspan><tspan dy="-1.2">+b</tspan><tspan class="s2" dy="1.2">41</tspan><tspan dy="-1.2">+c</tspan><tspan class="s2" dy="1.2">32</tspan><tspan dy="-1.2">+d</tspan><tspan class="s2" dy="1.2">31</tspan></text>
<text class="to" x="81" y="34">a<tspan class="s2" dy="1.2">44</tspan><tspan dy="-1.2">+b</tspan><tspan class="s2" dy="1.2">43</tspan><tspan dy="-1.2">+c</tspan><tspan class="s2" dy="1.2">34</tspan><tspan dy="-1.2">+d</tspan><tspan class="s2" dy="1.2">33</tspan></text>
<use href="#ell" x="110" y="12"/><use href="#ell" x="110" y="32"/>
<use href="#vdC" x="28" y="40"/><use href="#vdC" x="81" y="40"/>
</g>
<g id="dots-b-out-bottom"><use href="#dot" x="615" y="474"/></g>

<!-- ===== (c) Muxout configuration ===== -->
<g id="c-labels">
<rect class="lab" x="745" y="77" width="27" height="20"/><text class="k" x="758.5" y="89.5" font-size="6.5">C+A</text>
<rect class="labo" x="842" y="77" width="35" height="20"/><text class="k" x="859.5" y="89.5" font-size="6.5">C+M+A</text>
<rect class="lab" x="949" y="77" width="26" height="20"/><text class="k" x="962" y="89.5" font-size="6.5">C+A</text>
<line class="span" x1="726" y1="104" x2="791" y2="104"/><circle cx="726" cy="104" r="2"/><circle cx="791" cy="104" r="2"/>
<line class="span" x1="804" y1="104" x2="915" y2="104"/><circle cx="804" cy="104" r="2"/><circle cx="915" cy="104" r="2"/>
<line class="span" x1="928" y1="104" x2="995" y2="104"/><circle cx="928" cy="104" r="2"/><circle cx="995" cy="104" r="2"/>
</g>
<g id="c-conv1"><rect class="conv" x="724" y="115" width="29" height="52"/><text class="k" x="738.5" y="143.5" font-size="7">conv</text></g>
<g id="c-activ1"><rect class="act" x="764" y="115" width="28" height="52"/><text class="k" x="778" y="143.5" font-size="7">activ</text></g>
<g id="c-conv2"><rect class="conv" x="803" y="115" width="29" height="52"/><text class="k" x="817.5" y="143.5" font-size="7">conv</text></g>
<g id="c-muxout"><rect class="mux" x="842" y="115" width="35" height="52"/><text class="k" x="859.5" y="143.5" font-size="7">Muxout</text></g>
<g id="c-activ2"><rect class="act" x="889" y="115" width="28" height="52"/><text class="k" x="903" y="143.5" font-size="7">activ</text></g>
<g id="c-conv3"><rect class="conv" x="929" y="115" width="28" height="52"/><text class="k" x="943" y="143.5" font-size="7">conv</text></g>
<g id="c-activ3"><rect class="act" x="968" y="115" width="28" height="52"/><text class="k" x="982" y="143.5" font-size="7">activ</text></g>
<g id="c-ends"><use href="#ell" x="703" y="141"/><use href="#ell" x="1005" y="141"/></g>

<!-- ===== (d) T-MuxOut configuration ===== -->
<g id="d-labels">
<rect class="lab" x="756" y="363" width="31" height="24"/><text class="k" x="771.5" y="378.5" font-size="8">C+A</text>
<rect class="labo" x="838" y="363" width="37" height="24"/><text class="k" x="856.5" y="378.5" font-size="8">TMUX</text>
<rect class="lab" x="921" y="363" width="32" height="24"/><text class="k" x="937" y="378.5" font-size="8">C+A</text>
<line class="span" x1="732" y1="397" x2="812" y2="397"/><circle cx="732" cy="397" r="2.2"/><circle cx="812" cy="397" r="2.2"/>
<line class="span" x1="828" y1="397" x2="884" y2="397"/><circle cx="828" cy="397" r="2.2"/><circle cx="884" cy="397" r="2.2"/>
<line class="span" x1="897" y1="397" x2="978" y2="397"/><circle cx="897" cy="397" r="2.2"/><circle cx="978" cy="397" r="2.2"/>
</g>
<g id="d-conv1"><rect class="conv" x="730" y="409" width="35" height="63"/><text class="k" x="747.5" y="444" font-size="8.5">conv</text></g>
<g id="d-activ1"><rect class="act" x="778" y="409" width="35" height="63"/><text class="k" x="795.5" y="444" font-size="8.5">activ</text></g>
<g id="d-tmuxout"><rect class="mux" x="829" y="409" width="57" height="63"/><text class="k" x="857.5" y="444" font-size="8.5">T-Muxout</text></g>
<g id="d-conv2"><rect class="conv" x="897" y="409" width="35" height="63"/><text class="k" x="914.5" y="444" font-size="8.5">conv</text></g>
<g id="d-activ2"><rect class="act" x="943" y="409" width="35" height="63"/><text class="k" x="960.5" y="444" font-size="8.5">activ</text></g>
<g id="d-ends"><use href="#ell" x="703" y="442"/><use href="#ell" x="1000" y="442"/></g>

<!-- connectors -->
<g id="connectors" class="conn">
<line x1="79" y1="149" x2="101" y2="149"/>
<line x1="79" y1="230" x2="101" y2="230"/>
<line x1="79" y1="311" x2="101" y2="311"/>
<line x1="79" y1="392" x2="101" y2="392"/>
<line x1="203" y1="91" x2="219" y2="91"/>
<line x1="203" y1="207" x2="219" y2="207"/>
<line x1="203" y1="322" x2="219" y2="322"/>
<line x1="203" y1="437" x2="219" y2="437"/>
<line x1="431" y1="101" x2="448" y2="101"/>
<line x1="431" y1="208" x2="448" y2="208"/>
<line x1="431" y1="315" x2="448" y2="315"/>
<line x1="431" y1="419" x2="448" y2="419"/>
<line x1="530" y1="102" x2="551" y2="102"/>
<line x1="530" y1="205" x2="551" y2="205"/>
<line x1="530" y1="315" x2="551" y2="315"/>
<line x1="530" y1="417" x2="551" y2="417"/>
<line x1="753" y1="141" x2="764" y2="141"/>
<line x1="792" y1="141" x2="803" y2="141"/>
<line x1="832" y1="141" x2="842" y2="141"/>
<line x1="877" y1="141" x2="889" y2="141"/>
<line x1="917" y1="141" x2="929" y2="141"/>
<line x1="957" y1="141" x2="968" y2="141"/>
<line x1="765" y1="441" x2="778" y2="441"/>
<line x1="813" y1="441" x2="829" y2="441"/>
<line x1="886" y1="441" x2="897" y2="441"/>
<line x1="932" y1="441" x2="943" y2="441"/>
<line x1="978" y1="441" x2="991" y2="441"/>
</g>

<!-- captions -->
<g id="captions">
<text class="cap capL" x="60" y="555" word-spacing="0.2">(a) MuxOut 2 × 2 layer.</text>
<text class="cap capL" x="313" y="555" word-spacing="3.3">(b) Transposed MuxOut 2 × 2 layer</text>
<text class="cap" x="702" y="195" textLength="323" lengthAdjust="spacing">(c) Muxout recommended config-</text>
<text class="cap" x="702" y="220">uration using definitions 6.</text>
<text class="cap" x="702" y="502" textLength="323" lengthAdjust="spacing">(d) T–MuxOut recommended con-</text>
<text class="cap" x="702" y="528" textLength="323" lengthAdjust="spacing">figuration follows standard use of</text>
<text class="cap" x="702" y="553">pooling layers.</text>
</g>
</svg>
